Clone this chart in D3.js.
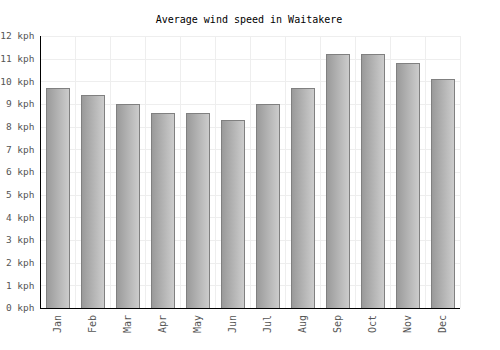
<!DOCTYPE html>
<html>
<head>
<meta charset="utf-8">
<script src="https://cdn.jsdelivr.net/npm/d3@7"></script>
<style>
    body { margin: 0; background: #fff; }
    text { font-family: "DejaVu Sans Mono", monospace; }
</style>
</head>
<body>
<div id="chart"></div>
<script>
    var months = ['Jan', 'Feb', 'Mar', 'Apr', 'May', 'Jun', 'Jul', 'Aug', 'Sep', 'Oct', 'Nov', 'Dec'];
    var windSpeed = [9.7, 9.4, 9.0, 8.6, 8.6, 8.3, 9.0, 9.7, 11.2, 11.2, 10.8, 10.1];
    var yTicks = [0, 1, 2, 3, 4, 5, 6, 7, 8, 9, 10, 11, 12];

    var width = 500, height = 350;
    var margin = { top: 36, right: 40, bottom: 42, left: 40 };

    var svg = d3.select('#chart').append('svg')
        .attr('width', width)
        .attr('height', height);

    var grad = svg.append('defs').append('linearGradient')
        .attr('id', 'barGrad')
        .attr('x1', '0%').attr('x2', '100%')
        .attr('y1', '0%').attr('y2', '0%');
    grad.append('stop').attr('offset', '0%').attr('stop-color', '#999999');
    grad.append('stop').attr('offset', '100%').attr('stop-color', '#cdcdcd');

    var x = d3.scaleBand()
        .domain(months)
        .range([margin.left, width - margin.right])
        .paddingInner(0.33)
        .paddingOuter(0.165);

    var y = d3.scaleLinear()
        .domain([0, 12])
        .range([height - margin.bottom, margin.top]);

    // band edges for vertical gridlines
    var step = (width - margin.right - margin.left) / months.length;

    // horizontal grid
    svg.append('g')
        .selectAll('line')
        .data(yTicks)
        .enter()
        .append('line')
        .attr('x1', margin.left)
        .attr('x2', width - margin.right)
        .attr('y1', function(d) { return Math.round(y(d)) + 0.5; })
        .attr('y2', function(d) { return Math.round(y(d)) + 0.5; })
        .attr('stroke', '#eeeeee');

    // vertical grid
    svg.append('g')
        .selectAll('line')
        .data(d3.range(months.length + 1))
        .enter()
        .append('line')
        .attr('x1', function(i) { return Math.round(margin.left + i * step) + 0.5; })
        .attr('x2', function(i) { return Math.round(margin.left + i * step) + 0.5; })
        .attr('y1', margin.top)
        .attr('y2', height - margin.bottom)
        .attr('stroke', '#eeeeee');

    // bars
    svg.append('g')
        .selectAll('rect')
        .data(windSpeed)
        .enter()
        .append('rect')
        .attr('x', function(d, i) { return Math.round(x(months[i])) + 0.5; })
        .attr('y', function(d) { return Math.round(y(d)) + 0.5; })
        .attr('width', Math.round(x.bandwidth()))
        .attr('height', function(d) { return Math.round(y(0)) - Math.round(y(d)); })
        .attr('fill', 'url(#barGrad)')
        .attr('stroke', '#808080')
        .attr('stroke-width', 1);

    // y axis labels
    svg.append('g')
        .selectAll('text')
        .data(yTicks)
        .enter()
        .append('text')
        .attr('x', 34.5)
        .attr('y', function(d) { return y(d); })
        .attr('dy', '0.35em')
        .attr('text-anchor', 'end')
        .attr('font-size', 9.5)
        .attr('fill', '#555')
        .text(function(d) { return d + ' kph'; });

    // x axis labels
    svg.append('g')
        .selectAll('text')
        .data(months)
        .enter()
        .append('text')
        .attr('transform', function(m) {
            return 'translate(' + (x(m) + x.bandwidth() / 2) + ',' + (y(0) + 7) + ') rotate(-90)';
        })
        .attr('dy', '0.35em')
        .attr('text-anchor', 'end')
        .attr('font-size', 10)
        .attr('fill', '#555')
        .text(function(m) { return m; });

    // axis lines
    svg.append('line')
        .attr('x1', margin.left + 0.5).attr('x2', margin.left + 0.5)
        .attr('y1', margin.top).attr('y2', Math.round(y(0)) + 1)
        .attr('stroke', '#000');
    svg.append('line')
        .attr('x1', margin.left).attr('x2', width - margin.right)
        .attr('y1', Math.round(y(0)) + 0.5).attr('y2', Math.round(y(0)) + 0.5)
        .attr('stroke', '#000');

    // title
    svg.append('text')
        .attr('x', 249)
        .attr('y', 23)
        .attr('text-anchor', 'middle')
        .attr('font-size', 10)
        .attr('fill', '#000')
        .text('Average wind speed in Waitakere');
</script>
</body>
</html>
